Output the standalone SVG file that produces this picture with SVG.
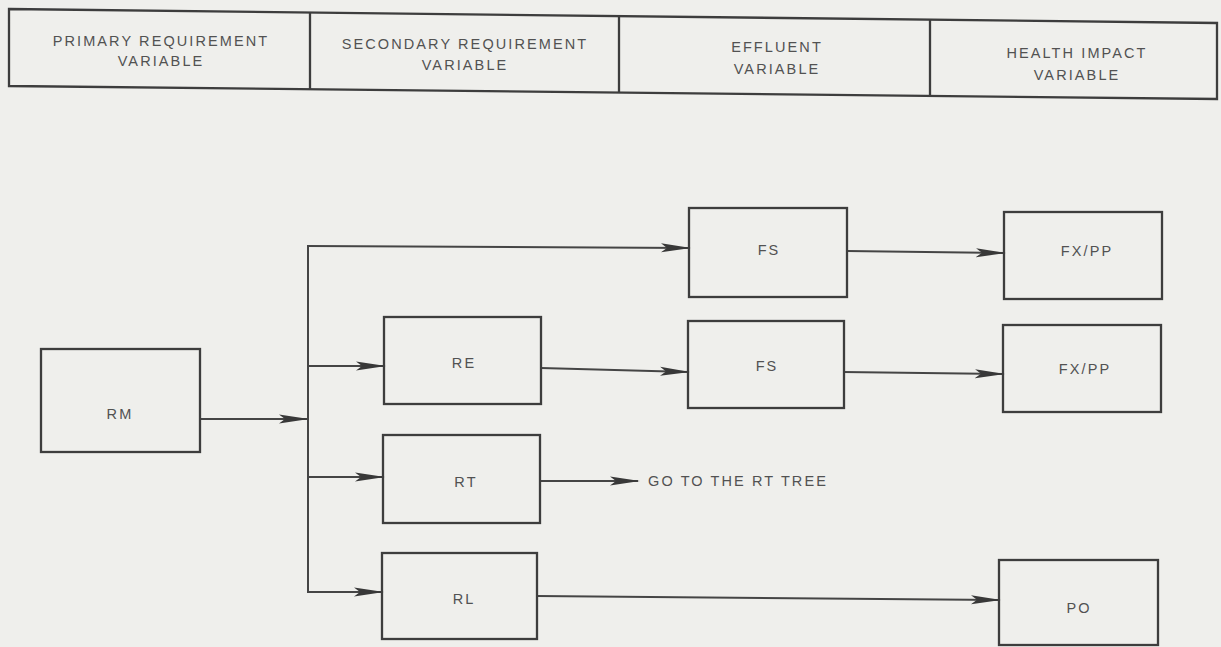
<svg xmlns="http://www.w3.org/2000/svg" width="1221" height="647" viewBox="0 0 1221 647">
  <style>
    .bg { fill: #efefec; }
    .box { fill: none; stroke: #3d3d3d; stroke-width: 2.3; }
    .line { fill: none; stroke: #454545; stroke-width: 2; }
    .t { font-family: "Liberation Sans", Arial, sans-serif; font-size: 14.5px; letter-spacing: 2.1px; fill: #525252; text-anchor: middle; dominant-baseline: central; }
  </style>
  <defs>
    <marker id="arr" markerUnits="userSpaceOnUse" markerWidth="30" markerHeight="12" refX="28" refY="6" orient="auto" viewBox="0 0 30 12">
      <path d="M0,1.5 L30,6 L0,10.5 L6,6 z" fill="#383838"/>
    </marker>
  </defs>
  <rect class="bg" x="0" y="0" width="1221" height="647"/>

  <g id="header">
    <polygon class="box" points="9,9 1217,23 1217,99 9,86"/>
    <line class="box" x1="310" y1="12" x2="310" y2="89"/>
    <line class="box" x1="619" y1="16" x2="619" y2="93"/>
    <line class="box" x1="930" y1="19" x2="930" y2="96"/>
    <text class="t" x="161" y="41">PRIMARY REQUIREMENT</text>
    <text class="t" x="161" y="61">VARIABLE</text>
    <text class="t" x="465" y="44">SECONDARY REQUIREMENT</text>
    <text class="t" x="465" y="65">VARIABLE</text>
    <text class="t" x="777" y="47">EFFLUENT</text>
    <text class="t" x="777" y="69">VARIABLE</text>
    <text class="t" x="1077" y="53">HEALTH IMPACT</text>
    <text class="t" x="1077" y="75">VARIABLE</text>
  </g>

  <g id="connectors">
    <path class="line" d="M200,419 H307" marker-end="url(#arr)"/>
    <path class="line" d="M308,245 V593"/>
    <path class="line" d="M308,246 L689,248" marker-end="url(#arr)"/>
    <path class="line" d="M308,366 H384" marker-end="url(#arr)"/>
    <path class="line" d="M308,477 H383" marker-end="url(#arr)"/>
    <path class="line" d="M308,592 H382" marker-end="url(#arr)"/>
    <path class="line" d="M541,368 L688,372" marker-end="url(#arr)"/>
    <path class="line" d="M847,251 L1004,253" marker-end="url(#arr)"/>
    <path class="line" d="M843,372 L1003,374" marker-end="url(#arr)"/>
    <path class="line" d="M540,481 H638" marker-end="url(#arr)"/>
    <path class="line" d="M537,596 L999,600" marker-end="url(#arr)"/>
  </g>

  <g id="node-rm">
    <rect class="box" x="41" y="349" width="159" height="103"/>
    <text class="t" x="120" y="414">RM</text>
  </g>
  <g id="node-fs1">
    <rect class="box" x="689" y="208" width="158" height="89"/>
    <text class="t" x="769" y="250">FS</text>
  </g>
  <g id="node-fxpp1">
    <rect class="box" x="1004" y="212" width="158" height="87"/>
    <text class="t" x="1087" y="251">FX/PP</text>
  </g>
  <g id="node-re">
    <rect class="box" x="384" y="317" width="157" height="87"/>
    <text class="t" x="464" y="363">RE</text>
  </g>
  <g id="node-fs2">
    <rect class="box" x="688" y="321" width="156" height="87"/>
    <text class="t" x="767" y="366">FS</text>
  </g>
  <g id="node-fxpp2">
    <rect class="box" x="1003" y="325" width="158" height="87"/>
    <text class="t" x="1085" y="369">FX/PP</text>
  </g>
  <g id="node-rt">
    <rect class="box" x="383" y="435" width="157" height="88"/>
    <text class="t" x="466" y="482">RT</text>
  </g>
  <g id="node-goto">
    <text class="t" x="738" y="481">GO TO THE RT TREE</text>
  </g>
  <g id="node-rl">
    <rect class="box" x="382" y="553" width="155" height="86"/>
    <text class="t" x="464" y="599">RL</text>
  </g>
  <g id="node-po">
    <rect class="box" x="999" y="560" width="159" height="85"/>
    <text class="t" x="1079" y="608">PO</text>
  </g>
</svg>
